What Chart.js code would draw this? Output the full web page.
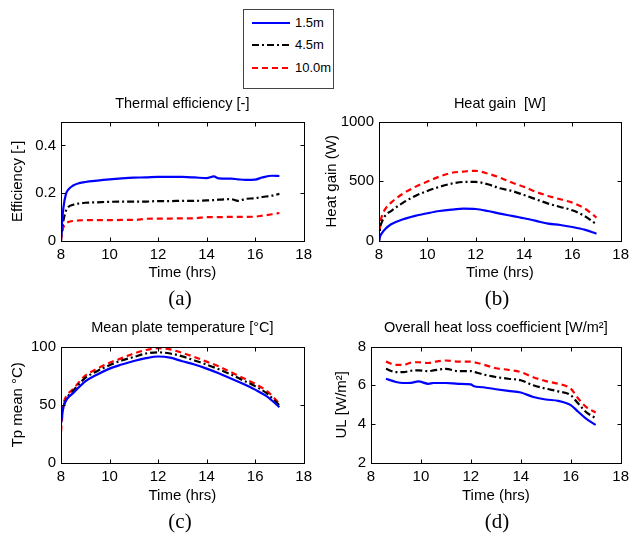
<!DOCTYPE html>
<html>
<head>
<meta charset="utf-8">
<script src="https://cdn.jsdelivr.net/npm/chart.js@4.4.1/dist/chart.umd.min.js"></script>
<style>
  body { margin: 0; background: #fff; width: 634px; height: 537px; position: relative; overflow: hidden;
         font-family: "Liberation Sans", Arial, sans-serif; }
  canvas { position: absolute; }
  .sub { position: absolute; font-family: "Liberation Serif", "Times New Roman", serif; font-size: 21px;
         transform: translate(-50%, -50%); color: #000; }
  #legend { position: absolute; left: 243px; top: 9px; width: 89px; height: 78px; border: 1px solid #444; }
  .entry { position: absolute; left: 7px; height: 16px; font-size: 13px; line-height: 16px; white-space: nowrap; }
  .entry svg { position: absolute; left: 0; top: 0; }
  .entry span { position: absolute; left: 44px; top: 0; }
</style>
</head>
<body>
<div id="legend"></div>
<canvas id="pa" width="317" height="195" style="left:0;top:90px"></canvas>
<canvas id="pb" width="317" height="195" style="left:317px;top:90px"></canvas>
<canvas id="pc" width="317" height="200" style="left:0;top:310px"></canvas>
<canvas id="pd" width="317" height="200" style="left:317px;top:310px"></canvas>
<div class="sub" style="left:180px;top:298px">(a)</div>
<div class="sub" style="left:497px;top:298px">(b)</div>
<div class="sub" style="left:180px;top:521px">(c)</div>
<div class="sub" style="left:497px;top:521px">(d)</div>
<script>
// series
const seriesNames = ['1.5m', '4.5m', '10.0m'];
const seriesColors = ['#0000ff', '#000000', '#ff0000'];
const seriesDash = [[], [7, 3, 2, 3], [6, 4]];
const xTicks = [8, 10, 12, 14, 16, 18];

// (a) thermal efficiency
const timeA = [8, 8.05, 8.1, 8.2, 8.3, 8.5, 8.75, 9, 9.5, 10, 10.5, 11, 11.5, 12, 12.5, 13, 13.5, 14, 14.3, 14.5, 15, 15.3, 15.6, 16, 16.3, 16.7, 17];
const effBlue = [0, 0.086, 0.14, 0.195, 0.215, 0.232, 0.242, 0.247, 0.253, 0.258, 0.262, 0.265, 0.266, 0.268, 0.268, 0.268, 0.266, 0.263, 0.27, 0.262, 0.261, 0.258, 0.256, 0.257, 0.266, 0.273, 0.272];
const effBlack = [0.02, 0.055, 0.086, 0.125, 0.142, 0.152, 0.157, 0.16, 0.162, 0.164, 0.165, 0.165, 0.165, 0.167, 0.167, 0.168, 0.168, 0.17, 0.171, 0.173, 0.175, 0.168, 0.176, 0.179, 0.184, 0.19, 0.197];
const effRed = [0, 0.035, 0.058, 0.072, 0.079, 0.084, 0.086, 0.087, 0.087, 0.087, 0.088, 0.088, 0.093, 0.094, 0.094, 0.095, 0.095, 0.1, 0.1, 0.1, 0.101, 0.101, 0.101, 0.102, 0.106, 0.112, 0.117];
const yTicksA = [0, 0.2, 0.4];

// (b) heat gain
const timeB = [8, 8.05, 8.1, 8.25, 8.5, 9, 9.5, 10, 10.5, 11, 11.5, 12, 12.5, 13, 13.5, 14, 14.5, 15, 15.5, 16, 16.5, 17];
const gainBlue = [0, 42, 60, 98, 140, 182, 210, 232, 251, 263, 271, 268, 251, 229, 210, 190, 168, 145, 134, 117, 95, 61];
const gainBlack = [0, 112, 150, 210, 251, 321, 377, 419, 453, 480, 494, 494, 475, 441, 419, 385, 349, 313, 285, 257, 210, 140];
const gainRed = [0, 140, 195, 265, 321, 397, 453, 497, 539, 570, 581, 587, 564, 531, 489, 453, 411, 377, 349, 321, 274, 196];
const yTicksB = [0, 500, 1000];

// (c) mean plate temperature
const timeC = [8, 8.1, 8.25, 8.5, 9, 9.5, 10, 10.5, 11, 11.5, 12, 12.5, 13, 13.5, 14, 14.5, 15, 15.5, 16, 16.5, 17];
const tpBlue = [34, 48, 55, 60, 70, 76, 81, 84.5, 87.6, 90, 91.4, 90.4, 87.3, 84.5, 81, 77, 72.5, 68, 63, 57, 48];
const tpBlack = [37, 48, 56, 62, 73, 79, 84, 88, 91, 94, 95, 94, 91.5, 88, 84.5, 80.5, 76, 71, 66, 59.5, 49.5];
const tpRed = [27, 50, 58, 63.5, 75, 81, 86, 90, 94, 97, 98.5, 97.5, 94.5, 91, 87, 83, 78, 73, 68, 61.5, 51];
const yTicksC = [0, 50, 100];

// (d) overall heat loss coefficient
const timeD = [8.6, 9, 9.3, 9.6, 9.9, 10.3, 10.5, 11, 11.5, 12, 12.1, 12.5, 13, 13.5, 14, 14.5, 15, 15.5, 16, 16.3, 16.6, 17];
const ulBlue = [6.34, 6.17, 6.12, 6.13, 6.2, 6.08, 6.12, 6.12, 6.08, 6.05, 5.97, 5.9, 5.8, 5.71, 5.63, 5.4, 5.27, 5.2, 4.98, 4.64, 4.3, 3.96];
const ulBlack = [6.85, 6.68, 6.68, 6.75, 6.77, 6.73, 6.77, 6.85, 6.73, 6.73, 6.7, 6.56, 6.43, 6.34, 6.26, 6.0, 5.83, 5.69, 5.49, 5.06, 4.64, 4.3];
const ulRed = [7.22, 7.05, 7.05, 7.17, 7.19, 7.15, 7.2, 7.28, 7.22, 7.22, 7.2, 7.07, 6.88, 6.8, 6.68, 6.42, 6.22, 6.08, 5.83, 5.32, 4.9, 4.6];
const yTicksD = [2, 4, 6, 8];

Chart.defaults.font.family = '"Liberation Sans", Arial, sans-serif';
Chart.defaults.color = '#000';

// matlab style box with inward ticks
const boxPlugin = {
  id: 'box',
  afterDraw(chart) {
    const {ctx, chartArea: a, scales} = chart;
    const l = Math.round(a.left) + 0.5, r = Math.round(a.right) + 0.5;
    const t = Math.round(a.top) + 0.5, b = Math.round(a.bottom) + 0.5;
    ctx.save();
    ctx.strokeStyle = '#000';
    ctx.lineWidth = 1;
    ctx.strokeRect(l, t, r - l, b - t);
    ctx.beginPath();
    scales.x.ticks.forEach(tk => {
      const px = Math.round(scales.x.getPixelForValue(tk.value)) + 0.5;
      ctx.moveTo(px, b); ctx.lineTo(px, b - 4);
      ctx.moveTo(px, t); ctx.lineTo(px, t + 4);
    });
    scales.y.ticks.forEach(tk => {
      const py = Math.round(scales.y.getPixelForValue(tk.value)) + 0.5;
      ctx.moveTo(l, py); ctx.lineTo(l + 4, py);
      ctx.moveTo(r, py); ctx.lineTo(r - 4, py);
    });
    ctx.stroke();
    ctx.restore();
  }
};

function panel(id, o) {
  const datasets = o.series.map((vals, i) => ({
    label: seriesNames[i],
    data: o.time.map((t, k) => ({x: t, y: vals[k]})),
    borderColor: seriesColors[i],
    borderDash: seriesDash[i],
    borderWidth: 2.2,
    pointRadius: 0,
    cubicInterpolationMode: 'monotone',
    fill: false
  }));
  new Chart(document.getElementById(id), {
    type: 'line',
    data: {datasets},
    options: {
      responsive: false,
      animation: false,
      devicePixelRatio: 1,
      layout: {padding: {left: 0, right: o.padRight, top: 0, bottom: 0}},
      plugins: {
        legend: {display: false},
        tooltip: {enabled: false},
        title: {
          display: true, text: o.title, fullSize: false, color: '#000',
          font: {size: 14.5, weight: 'normal', lineHeight: 1},
          padding: {top: o.titleTop, bottom: o.titleBottom}
        }
      },
      scales: {
        x: {
          type: 'linear', min: 8, max: 18,
          afterBuildTicks: s => { s.ticks = xTicks.map(v => ({value: v})); },
          afterFit: s => { s.height = o.xHeight; },
          grid: {display: false, drawTicks: false},
          border: {display: false},
          ticks: {padding: 5, font: {size: 15}, maxRotation: 0, autoSkip: false, callback: v => String(v)},
          title: {display: true, text: 'Time (hrs)', font: {size: 15}, padding: {top: 0, bottom: o.xTitleBottom}}
        },
        y: {
          type: 'linear', min: o.yMin, max: o.yMax,
          afterBuildTicks: s => { s.ticks = o.yTicks.map(v => ({value: v})); },
          afterFit: s => { s.width = o.yWidth; },
          grid: {display: false, drawTicks: false},
          border: {display: false},
          ticks: {padding: 5, font: {size: 15}, autoSkip: false, callback: v => String(v)},
          title: {display: true, text: o.yLabel, font: {size: 15}, padding: {top: o.yTitleLeft, bottom: 0}}
        }
      }
    },
    plugins: [boxPlugin]
  });
}

panel('pa', {title: 'Thermal efficiency [-]', yLabel: 'Efficiency [-]', time: timeA,
  series: [effBlue, effBlack, effRed], yMin: 0, yMax: 0.5, yTicks: yTicksA,
  yWidth: 61, padRight: 12, titleTop: 7, titleBottom: 10, xHeight: 44, xTitleBottom: 3, yTitleLeft: 9});
panel('pb', {title: 'Heat gain  [W]', yLabel: 'Heat gain (W)', time: timeB,
  series: [gainBlue, gainBlack, gainRed], yMin: 0, yMax: 1000, yTicks: yTicksB,
  yWidth: 62, padRight: 10, titleTop: 7, titleBottom: 10, xHeight: 44, xTitleBottom: 3, yTitleLeft: 6});
panel('pc', {title: 'Mean plate temperature [°C]', yLabel: 'Tp mean °C)', time: timeC,
  series: [tpBlue, tpBlack, tpRed], yMin: 0, yMax: 100, yTicks: yTicksC,
  yWidth: 61, padRight: 12, titleTop: 11, titleBottom: 11, xHeight: 47, xTitleBottom: 5, yTitleLeft: 9});
panel('pd', {title: 'Overall heat loss coefficient [W/m²]', yLabel: 'UL [W/m²]', time: timeD,
  series: [ulBlue, ulBlack, ulRed], yMin: 2, yMax: 8, yTicks: yTicksD,
  yWidth: 54, padRight: 10, titleTop: 11, titleBottom: 11, xHeight: 47, xTitleBottom: 5, yTitleLeft: 16});

// shared legend
const legend = document.getElementById('legend');
const entryTops = [5, 27, 50];
seriesNames.forEach((name, i) => {
  const e = document.createElement('div');
  e.className = 'entry';
  e.style.top = entryTops[i] + 'px';
  e.innerHTML = '<svg width="40" height="16"><line x1="1" y1="8" x2="39" y2="8" stroke="' + seriesColors[i] +
    '" stroke-width="2.2" stroke-dasharray="' + (seriesDash[i].length ? seriesDash[i].join(',') : 'none') + '"/></svg>' +
    '<span>' + name + '</span>';
  legend.appendChild(e);
});
</script>
</body>
</html>
